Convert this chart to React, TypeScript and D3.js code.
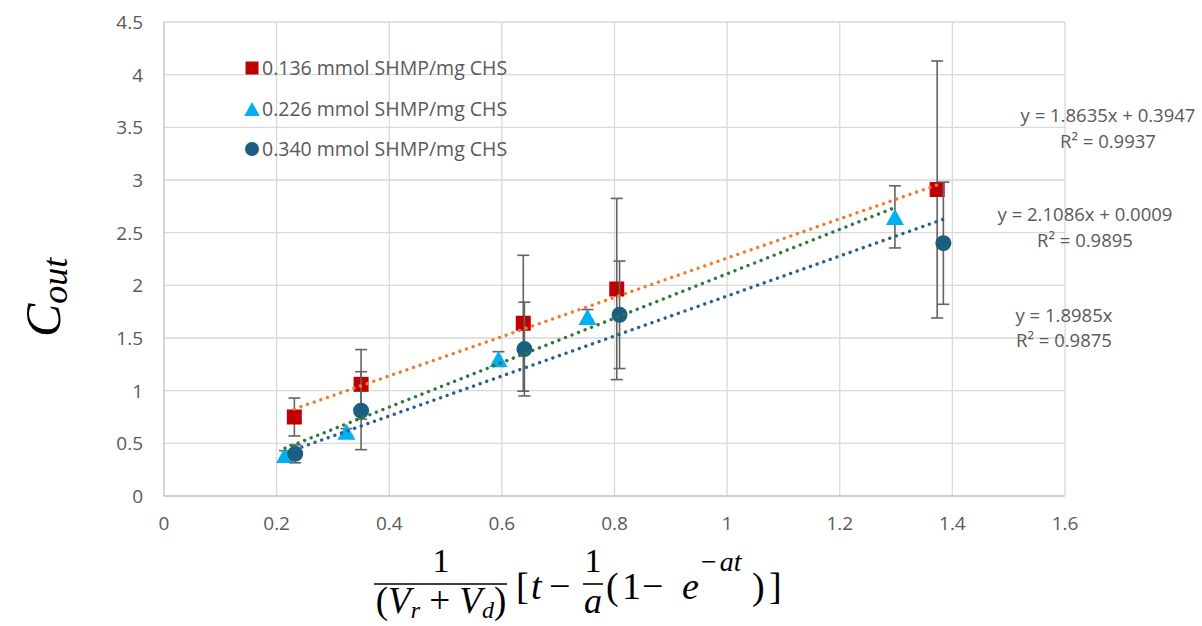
import React from "react";
import * as d3 from "d3";

// Series labels
const seriesNames = [
  "0.136 mmol SHMP/mg CHS",
  "0.226 mmol SHMP/mg CHS",
  "0.340 mmol SHMP/mg CHS",
];

// 0.136 mmol SHMP/mg CHS
const xA = [0.2315, 0.35, 0.638, 0.804, 1.373];
const yA = [0.75, 1.06, 1.64, 1.965, 2.91];
const eA = [0.18, 0.33, 0.645, 0.86, 1.22];

// 0.226 mmol SHMP/mg CHS
const xB = [0.215, 0.324, 0.594, 0.752, 1.298];
const yB = [0.39, 0.61, 1.3, 1.7, 2.65];
const eB = [0.04, 0.03, 0.07, 0.07, 0.295];

// 0.340 mmol SHMP/mg CHS
const xC = [0.233, 0.35, 0.64, 0.809, 1.384];
const yC = [0.4, 0.81, 1.395, 1.72, 2.4];
const eC = [0.085, 0.37, 0.445, 0.51, 0.58];

// Linear fits
const slopes = [1.8635, 2.1086, 1.8985];
const intercepts = [0.3947, 0.0009, 0];
const eqLabels = ["y = 1.8635x + 0.3947", "y = 2.1086x + 0.0009", "y = 1.8985x"];
const r2Labels = ["R² = 0.9937", "R² = 0.9895", "R² = 0.9875"];

// Axis ticks
const xTicks = [0, 0.2, 0.4, 0.6, 0.8, 1, 1.2, 1.4, 1.6];
const yTicks = [0, 0.5, 1, 1.5, 2, 2.5, 3, 3.5, 4, 4.5];

const markerColors = ["#C00000", "#00B0F0", "#1B5E82"];
const trendColors = ["#ED7D31", "#2A7A38", "#24618F"];
const textColor = "#595959";
const font = "'Open Sans', sans-serif";
const mathFont = "'Liberation Serif', 'DejaVu Serif', serif";

const x = d3.scaleLinear().domain([0, 1.6]).range([164, 1065]);
const y = d3.scaleLinear().domain([0, 4.5]).range([496, 22]);

const series = [
  { xs: xA, ys: yA, es: eA },
  { xs: xB, ys: yB, es: eB },
  { xs: xC, ys: yC, es: eC },
];

function Marker({ kind, cx, cy, size, color }: { kind: number; cx: number; cy: number; size: number; color: string }) {
  if (kind === 0) {
    return <rect x={cx - size / 2} y={cy - size / 2} width={size} height={size} fill={color} />;
  }
  if (kind === 1) {
    const w = size * 1.2;
    const h = size * 1.07;
    return (
      <path
        d={`M${cx},${cy - h / 2}L${cx + w / 2},${cy + h / 2}L${cx - w / 2},${cy + h / 2}Z`}
        fill={color}
      />
    );
  }
  return <circle cx={cx} cy={cy} r={size / 2 + 0.5} fill={color} />;
}

export default function App() {
  const line = d3
    .line<[number, number]>()
    .x((d) => x(d[0]))
    .y((d) => y(d[1]));

  const eqPos = [
    { cx: 1108, y1: 122, y2: 148 },
    { cx: 1085, y1: 221, y2: 247 },
    { cx: 1064, y1: 322, y2: 347 },
  ];

  const legendRows = [68, 109, 149];

  return (
    <svg
      width={1202}
      height={626}
      style={{ position: "absolute", left: 0, top: 0, background: "#fff" }}
    >
      {/* grid */}
      {xTicks.slice(1).map((t) => (
        <line key={"gx" + t} x1={x(t)} x2={x(t)} y1={y(4.5)} y2={y(0)} stroke="#D9D9D9" strokeWidth={1.3} />
      ))}
      {yTicks.slice(1).map((t) => (
        <line key={"gy" + t} x1={x(0)} x2={x(1.6)} y1={y(t)} y2={y(t)} stroke="#D9D9D9" strokeWidth={1.3} />
      ))}
      {/* axes */}
      <line x1={x(0)} x2={x(0)} y1={y(4.5)} y2={y(0)} stroke="#BFBFBF" strokeWidth={1.3} />
      <line x1={x(0)} x2={x(1.6)} y1={y(0)} y2={y(0)} stroke="#BFBFBF" strokeWidth={1.3} />

      {/* tick labels */}
      {yTicks.map((t) => (
        <text key={"ty" + t} x={143} y={y(t) + 7} textAnchor="end" fontFamily={font} fontSize={19} fill={textColor}>
          {d3.format("")(t)}
        </text>
      ))}
      {xTicks.map((t) => (
        <text key={"tx" + t} x={x(t)} y={530} textAnchor="middle" fontFamily={font} fontSize={19} fill={textColor}>
          {d3.format("")(t)}
        </text>
      ))}

      {/* error bars and markers */}
      {series.map((s, si) => (
        <g key={"s" + si}>
          {s.xs.map((xv, i) => {
            const px = x(xv);
            const top = y(s.ys[i] + s.es[i]);
            const bot = y(s.ys[i] - s.es[i]);
            return (
              <g key={i} stroke="#636363" strokeWidth={1.6}>
                <line x1={px} x2={px} y1={top} y2={bot} />
                <line x1={px - 6} x2={px + 6} y1={top} y2={top} />
                <line x1={px - 6} x2={px + 6} y1={bot} y2={bot} />
              </g>
            );
          })}
          {s.xs.map((xv, i) => (
            <Marker key={"m" + i} kind={si} cx={x(xv)} cy={y(s.ys[i])} size={15} color={markerColors[si]} />
          ))}
        </g>
      ))}

      {/* trend lines */}
      {series.map((s, si) => {
        const x0 = d3.min(s.xs) as number;
        const x1 = d3.max(s.xs) as number;
        const pts: [number, number][] = [
          [x0, slopes[si] * x0 + intercepts[si]],
          [x1, slopes[si] * x1 + intercepts[si]],
        ];
        return (
          <path
            key={"t" + si}
            d={line(pts) || ""}
            fill="none"
            stroke={trendColors[si]}
            strokeWidth={3.4}
            strokeLinecap="round"
            strokeDasharray="0.01 7"
          />
        );
      })}

      {/* legend */}
      {seriesNames.map((name, i) => (
        <g key={"l" + i}>
          <Marker kind={i} cx={252} cy={legendRows[i]} size={13} color={markerColors[i]} />
          <text x={262} y={legendRows[i] + 7} fontFamily={font} fontSize={19.5} fill={textColor}>
            {name}
          </text>
        </g>
      ))}

      {/* fit equations */}
      {eqPos.map((p, i) => (
        <g key={"eq" + i} fontFamily={font} fontSize={18.5} fill={textColor} textAnchor="middle">
          <text x={p.cx} y={p.y1}>{eqLabels[i]}</text>
          <text x={p.cx} y={p.y2}>{r2Labels[i]}</text>
        </g>
      ))}

      {/* y-axis title */}
      <text
        transform="translate(60,337) rotate(-90)"
        fontFamily={mathFont}
        fontStyle="italic"
        fill="#000"
        fontSize={50}
      >
        C
        <tspan fontSize={36} dy={7}>out</tspan>
      </text>

      {/* x-axis title */}
      <g fontFamily={mathFont} fill="#000" fontSize={38}>
        <text x={441} y={572} textAnchor="middle" fontSize={34}>1</text>
        <line x1={374} x2={507} y1={584} y2={584} stroke="#000" strokeWidth={1.6} />
        <text x={441} y={613} textAnchor="middle" fontSize={37}>
          (<tspan fontStyle="italic">V</tspan>
          <tspan fontStyle="italic" fontSize={24} dy={5}>r</tspan>
          <tspan dy={-5}> + </tspan>
          <tspan fontStyle="italic">V</tspan>
          <tspan fontStyle="italic" fontSize={24} dy={5}>d</tspan>
          <tspan dy={-5}>)</tspan>
        </text>
        <text x={516} y={599}>[</text>
        <text x={531} y={599} fontStyle="italic">t</text>
        <text x={549} y={599}>−</text>
        <text x={593} y={572} textAnchor="middle" fontSize={34}>1</text>
        <line x1={583} x2={603} y1={584} y2={584} stroke="#000" strokeWidth={1.6} />
        <text x={593} y={613} textAnchor="middle" fontStyle="italic" fontSize={36}>a</text>
        <text x={606} y={599}>(</text>
        <text x={622} y={599}>1</text>
        <text x={642} y={599}>−</text>
        <text x={682} y={599} fontStyle="italic">e</text>
        <text x={701} y={571} fontSize={28}>
          −<tspan fontStyle="italic" dx={3}>at</tspan>
        </text>
        <text x={752} y={599}>)</text>
        <text x={769} y={599}>]</text>
      </g>
    </svg>
  );
}
